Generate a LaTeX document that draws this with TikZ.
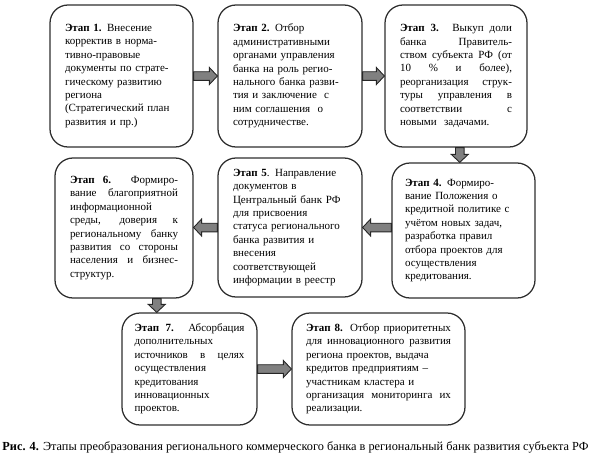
\documentclass[tikz,border=0pt]{standalone}
\usepackage{fontspec}
\setmainfont{Liberation Serif}
\usetikzlibrary{calc}
\newcommand\jline[1]{\makebox[\hsize][s]{\spaceskip=0pt\xspaceskip=0pt #1}}
\newcommand\blockarrow[2]{%
  \coordinate (ba-c) at ($#2!8pt!#1$);
  \draw[barrow] ($#1!4.3pt!90:#2$) -- ($(ba-c)!4.3pt!90:#2$) -- ($(ba-c)!8.5pt!90:#2$) -- #2
    -- ($(ba-c)!8.5pt!-90:#2$) -- ($(ba-c)!4.3pt!-90:#2$) -- ($#1!4.3pt!-90:#2$) -- cycle;
}
\tikzset{
  stage/.style={draw=black!82, line width=1.25pt, rounded corners=18pt, inner sep=0pt,
    align=left, font=\fontsize{11}{13.4}\selectfont},
  barrow/.style={draw=black!85, fill=black!50, line width=0.9pt, line join=miter},
  caption/.style={inner sep=0pt, font=\fontsize{12.3}{14}\selectfont},
}
\begin{document}
\begin{tikzpicture}[x=1pt, y=-1pt]
\useasboundingbox (0,0) rectangle (590,466);

\node[stage, minimum width=143pt, minimum height=142pt, text width=113pt] (b1) at (121.5,76) {%
\textbf{Этап 1.} Внесение\\
корректив в норма-\\
тивно-правовые\\
документы по страте-\\
гическому развитию\\
региона\\
(Стратегический план\\
развития и пр.)};

\node[stage, minimum width=144pt, minimum height=142pt, text width=114pt] (b2) at (290,76) {%
\textbf{Этап 2.} Отбор\\
административными\\
органами управления\\
банка на роль регио-\\
нального банка разви-\\
тия и заключение~ с\\
ним соглашения~ о\\
сотрудничестве.};

\node[stage, minimum width=142pt, minimum height=142pt, text width=112pt] (b3) at (456,76) {%
\jline{\textbf{Этап 3.} Выкуп доли}\\
\jline{банка Правитель-}\\
\jline{ством субъекта РФ (от}\\
\jline{10 \% и более),}\\
\jline{реорганизация струк-}\\
\jline{туры управления в}\\
\jline{соответствии с}\\
новыми~ задачами.};

\node[stage, minimum width=143pt, minimum height=135pt, text width=117pt] (b4) at (463.5,230.5) {%
\textbf{Этап 4.} Формиро-\\
вание Положения о\\
кредитной политике с\\
учётом новых задач,\\
разработка правил\\
отбора проектов для\\
осуществления\\
кредитования.};

\node[stage, minimum width=144pt, minimum height=139pt, text width=114pt] (b5) at (290,227.5) {%
\textbf{Этап 5}. Направление\\
документов в\\
Центральный банк РФ\\
для присвоения\\
статуса регионального\\
банка развития и\\
внесения\\
соответствующей\\
информации в реестр};

\node[stage, minimum width=138pt, minimum height=140pt, text width=108pt] (b6) at (124,228) {%
\jline{\textbf{Этап 6.} Формиро-}\\
\jline{вание благоприятной}\\
информационной\\
\jline{среды, доверия к}\\
\jline{региональному банку}\\
\jline{развития со стороны}\\
\jline{населения и бизнес-}\\
структур.};

\node[stage, minimum width=135pt, minimum height=112pt, text width=110pt] (b7) at (189.5,369) {%
\jline{\textbf{Этап 7.} Абсорбация}\\
дополнительных\\
\jline{источников в целях}\\
осуществления\\
кредитования\\
инновационных\\
проектов.};

\node[stage, minimum width=173pt, minimum height=112pt, text width=145pt] (b8) at (378.5,369) {%
\jline{\textbf{Этап 8.} Отбор приоритетных}\\
\jline{для инновационного развития}\\
региона проектов, выдача\\
кредитов предприятиям –\\
участникам кластера и\\
\jline{организация мониторинга их}\\
реализации.};

\node[caption] (cap) at (295.5,447) {\textbf{Рис. 4.} Этапы преобразования регионального коммерческого банка в региональный банк развития субъекта РФ};

% connectors
\coordinate (a34s) at ($(b3.south)!0.5!(b3.south -| b4.north)$);
\coordinate (a34e) at (a34s |- b4.north);
\coordinate (a45) at (b4.west |- b5.east);
\coordinate (a56) at (b6.east |- b5.west);
\coordinate (a67s) at ($(b6.south)!0.5!(b6.south -| b7.north)$);
\coordinate (a67e) at (a67s |- b7.north);
\coordinate (a78) at (b8.west |- b7.east);

\blockarrow{(b1.east)}{(b2.west)}
\blockarrow{(b2.east)}{(b3.west)}
\blockarrow{(a34s)}{(a34e)}
\blockarrow{(a45)}{(b5.east)}
\blockarrow{(b5.west)}{(a56)}
\blockarrow{(a67s)}{(a67e)}
\blockarrow{(b7.east)}{(a78)}
\end{tikzpicture}
\end{document}
